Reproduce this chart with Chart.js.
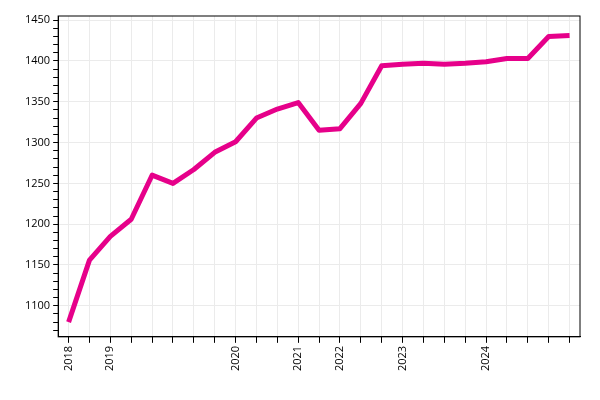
<!DOCTYPE html>
<html><head><script src="https://cdn.jsdelivr.net/npm/chart.js"></script>
<style>body{margin:0;background:#fff}#w{width:600px;height:400px}</style></head>
<body><div id="w"><canvas id="c"></canvas></div>
<script>
const labels = ["2018","","2019","","","","","","2020","","","2021","","2022","","","2023","","","","2024","","","",""];
const values = [1080,1156,1185,1206,1260,1250,1267,1288,1301,1330,1341,1349,1315,1317,1348,1394,1396,1397,1396,1397,1399,1403,1403,1430,1431];
const yTicks = [1100,1150,1200,1250,1300,1350,1400,1450];
new Chart(document.getElementById('c'), {
  type: 'line',
  data: { labels, datasets: [{ data: values, borderColor: '#e6008a', borderWidth: 5, pointRadius: 0, tension: 0, borderJoinStyle: 'round' }] },
  options: {
    responsive: true, maintainAspectRatio: false, animation: false,
    layout: { padding: { left: 22, right: 20, top: 16, bottom: 26 } },
    plugins: { legend: { display: false }, tooltip: { enabled: false } },
    scales: {
      x: { offset: true, border: { color: '#000' },
           grid: { color: '#ebebeb', tickColor: '#000', tickLength: 6 },
           ticks: { autoSkip: false, maxRotation: 90, minRotation: 90, color: '#000', font: { family: 'Open Sans', size: 11 } } },
      y: { min: 1062, max: 1455, border: { color: '#000' },
           afterBuildTicks: a => { a.ticks = []; for (let v = 1070; v <= 1450; v += 10) a.ticks.push({ value: v }); },
           grid: { color: c => (c.tick && c.tick.value % 50 === 0) ? '#ebebeb' : 'rgba(0,0,0,0)', tickColor: '#000', tickLength: 5 },
           ticks: { autoSkip: false, color: '#000', font: { family: 'Open Sans', size: 11 }, callback: v => yTicks.includes(v) ? v : '' } }
    }
  },
  plugins: [{ id: 'box', afterDraw(ch) { const a = ch.chartArea, x = ch.ctx; x.save(); x.strokeStyle = '#000'; x.lineWidth = 1; x.strokeRect(a.left, a.top, a.right - a.left, a.bottom - a.top); x.restore(); } }]
});
</script></body></html>
